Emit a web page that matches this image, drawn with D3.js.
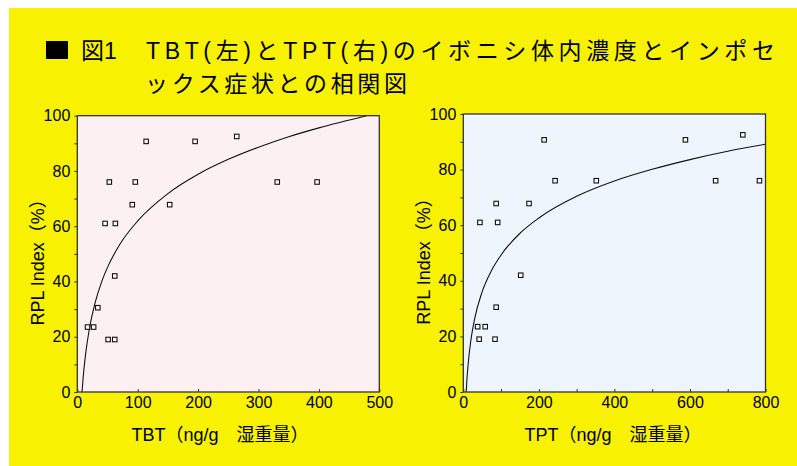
<!DOCTYPE html>
<html><head><meta charset="utf-8">
<script src="https://cdn.jsdelivr.net/npm/d3@7"></script>
<style>
body{margin:0;background:#fff;}
svg{display:block;}
text{font-family:"Liberation Sans",Arial,"Noto Sans CJK JP",sans-serif;}
</style></head>
<body>
<svg id="c" width="797" height="466"></svg>
<script>
// ---- data ----
const titleLine1 = "TBT(左)とTPT(右)のイボニシ体内濃度とインポセ";
const titleLine2 = "ックス症状との相関図";
const titleFig = "図1";
const yLabel = "RPL Index（%）";
const xLabelTBT = "TBT（ng/g　湿重量）";
const xLabelTPT = "TPT（ng/g　湿重量）";

const tbtX = [17, 27, 34, 51, 62, 62, 46, 63, 53, 96, 91, 114, 153, 195, 264, 331, 397];
const tbtY = [23.5, 23.5, 30.5, 19, 19, 42, 61, 61, 76, 76, 67.8, 90.7, 67.8, 90.7, 92.5, 76, 76];
const tptX = [38, 58, 42, 84, 87, 152, 44, 91, 87, 174, 214, 243, 352, 588, 668, 740, 784];
const tptY = [23.5, 23.5, 19, 19, 30.5, 42, 61, 61, 67.8, 67.8, 90.7, 76, 76, 90.7, 76, 92.5, 76];

// fitted curves
const tbtCurveX = [7.8, 10, 15, 20, 30, 40, 50, 70, 100, 150, 200, 250, 300, 350, 400, 479];
const tbtCurveY = [0, 6, 15.8, 22.8, 32.7, 39.7, 45.1, 53.3, 61.9, 71.8, 78.8, 84.2, 88.6, 92.4, 95.6, 100];
const tptCurveX = [7.6, 10, 15, 20, 30, 50, 75, 100, 150, 200, 300, 400, 500, 600, 700, 800];
const tptCurveY = [0, 5.3, 13.0, 18.5, 26.3, 36.1, 43.8, 49.3, 57.1, 62.6, 70.4, 75.9, 80.1, 83.6, 86.6, 89.1];

const yTicks = [0,10,20,30,40,50,60,70,80,90,100];
const tbtTicks = [0,100,200,300,400,500];
const tptTicks = [0,100,200,300,400,500,600,700,800];

// ---- drawing ----
const svg = d3.select("#c");
svg.append("rect").attr("x",9).attr("y",8).attr("width",797-9).attr("height",466-8).attr("fill","#f8f200");

// title
svg.append("rect").attr("x",46).attr("y",41).attr("width",22).attr("height",18).attr("fill","#000");
svg.append("text").attr("x",81).attr("y",59).attr("font-size",23).attr("fill","#000").text(titleFig);
svg.append("text").attr("x",146).attr("y",59).attr("font-size",23).attr("fill","#000")
  .attr("textLength",629).attr("lengthAdjust","spacing").text(titleLine1);
svg.append("text").attr("x",145).attr("y",92).attr("font-size",23).attr("fill","#000")
  .attr("textLength",262).attr("lengthAdjust","spacing").text(titleLine2);

function panel(opt){
  const x = d3.scaleLinear().domain(opt.xDomain).range([opt.left, opt.right]);
  const y = d3.scaleLinear().domain([0,100]).range([opt.bottom, opt.top]);
  const g = svg.append("g");
  g.append("rect").attr("x",opt.left).attr("y",opt.top)
    .attr("width",opt.right-opt.left).attr("height",opt.bottom-opt.top).attr("fill",opt.bg);

  const clipId = "clip"+opt.id;
  svg.append("clipPath").attr("id",clipId).append("rect")
    .attr("x",opt.left).attr("y",opt.top-1).attr("width",opt.right-opt.left).attr("height",opt.bottom-opt.top+1);

  const line = d3.line().x(d=>x(d[0])).y(d=>y(d[1])).curve(d3.curveMonotoneX);
  g.append("path").datum(d3.zip(opt.cx, opt.cy)).attr("d",line)
    .attr("fill","none").attr("stroke","#111").attr("stroke-width",1.1).attr("clip-path",`url(#${clipId})`);

  g.selectAll(".pt").data(d3.zip(opt.px, opt.py)).join("rect")
    .attr("x",d=>x(d[0])-2.25).attr("y",d=>y(d[1])-2.25).attr("width",4.5).attr("height",4.5)
    .attr("fill","#fff").attr("stroke","#111").attr("stroke-width",1.1);

  const ya = d3.axisLeft(y).tickValues(yTicks).tickSize(3).tickPadding(4)
    .tickFormat(d => d%20===0 ? d : "");
  const yg = g.append("g").attr("transform",`translate(${opt.left},0)`).call(ya);
  yg.select(".domain").remove();
  yg.selectAll("text").attr("font-size",16).attr("fill","#000");
  yg.selectAll("line").attr("stroke","#333");

  const xa = d3.axisBottom(x).tickValues(opt.xTicks).tickSizeInner(-3).tickSizeOuter(0).tickPadding(5)
    .tickFormat(d => d%opt.labelEvery===0 ? d : "");
  const xg = g.append("g").attr("transform",`translate(0,${opt.bottom})`).call(xa);
  xg.select(".domain").remove();
  xg.selectAll("text").attr("font-size",16).attr("fill","#000");
  xg.selectAll("line").attr("stroke","#333");

  g.append("rect").attr("x",opt.left).attr("y",opt.top)
    .attr("width",opt.right-opt.left).attr("height",opt.bottom-opt.top)
    .attr("fill","none").attr("stroke","#333").attr("stroke-width",1.3);

  g.append("text").attr("transform",`translate(${opt.ylx},${(opt.top+opt.bottom)/2+4}) rotate(-90)`)
    .attr("text-anchor","middle").attr("font-size",18).attr("fill","#000").text(yLabel);
  g.append("text").attr("x",opt.xlx).attr("y",441)
    .attr("text-anchor","middle").attr("font-size",18).attr("fill","#000").text(opt.xLabel);
}

panel({id:1, xDomain:[0,500], left:77.3, right:379.3, top:115.7, bottom:392, bg:"#fcf0f2",
  px:tbtX, py:tbtY, cx:tbtCurveX, cy:tbtCurveY, xTicks:tbtTicks, labelEvery:100,
  ylx:44, xlx:220, xLabel:xLabelTBT});
panel({id:2, xDomain:[0,800], left:463.3, right:765.5, top:114, bottom:392, bg:"#eef5fc",
  px:tptX, py:tptY, cx:tptCurveX, cy:tptCurveY, xTicks:tptTicks, labelEvery:200,
  ylx:430, xlx:613, xLabel:xLabelTPT});
</script>
</body></html>
